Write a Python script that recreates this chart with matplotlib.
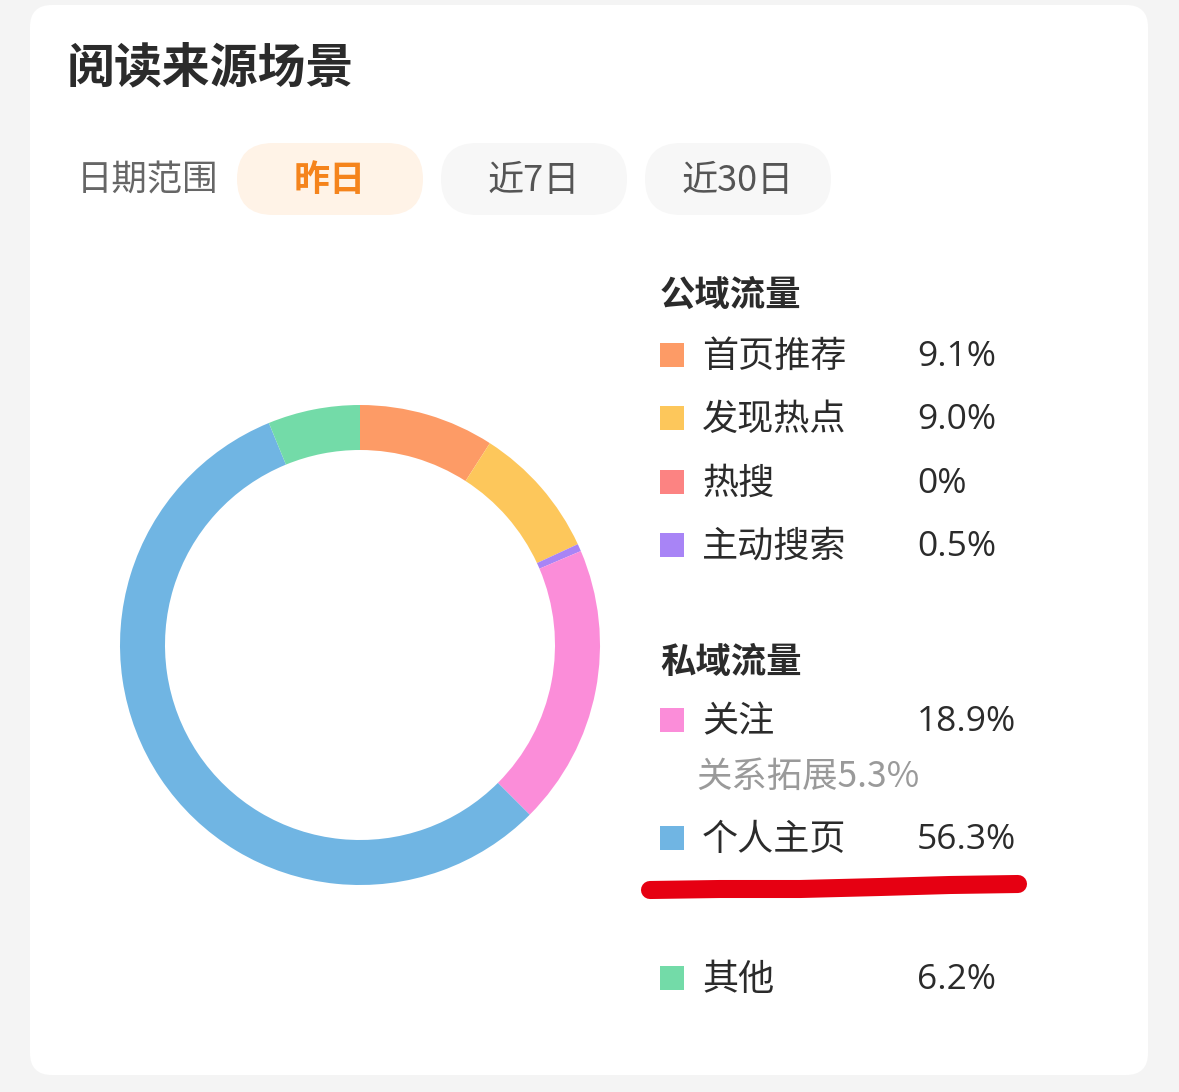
import matplotlib
matplotlib.use("Agg")
import matplotlib.pyplot as plt
from matplotlib.patches import FancyBboxPatch

plt.rcParams['font.family'] = ['Noto Sans CJK SC', 'DejaVu Sans']

# ---- data ----
title = "阅读来源场景"
date_label = "日期范围"
date_options = ["昨日", "近7日", "近30日"]
public_header = "公域流量"
private_header = "私域流量"
categories = ["首页推荐", "发现热点", "热搜", "主动搜索", "关注", "个人主页", "其他"]
values = [9.1, 9.0, 0.0, 0.5, 18.9, 56.3, 6.2]
value_labels = ["9.1%", "9.0%", "0%", "0.5%", "18.9%", "56.3%", "6.2%"]
sub_note = "关系拓展5.3%"
colors = ["#FD9B66", "#FDC75B", "#FC8382", "#A884F6", "#FB8DD9", "#70B5E3", "#73DBA8"]

W, H = 1179, 1092
fig = plt.figure(figsize=(W / 100, H / 100), dpi=100)
fig.patch.set_facecolor("#f4f4f4")

bg = fig.add_axes([0, 0, 1, 1])
bg.set_xlim(0, W)
bg.set_ylim(H, 0)
bg.axis("off")

# card
bg.add_patch(FancyBboxPatch((30, 5), 1118, 1070, boxstyle="round,pad=0,rounding_size=22",
                            fc="white", ec="none"))

# title
bg.text(67, 68, title, fontsize=34.5, fontweight="bold", color="#2b2b2b", va="center", ha="left")

# date range
bg.text(77, 181, date_label, fontsize=25.5, color="#666666", va="center", ha="left")
pills = [(237, 423, "#FFF3E7", "#F5841C", "bold"),
         (441, 627, "#F7F7F7", "#555555", "normal"),
         (645, 831, "#F7F7F7", "#555555", "normal")]
for (x0, x1, fc, tc, fw), lab in zip(pills, date_options):
    bg.add_patch(FancyBboxPatch((x0, 143), x1 - x0, 72, boxstyle="round,pad=0,rounding_size=36",
                                fc=fc, ec="none"))
    bg.text((x0 + x1) / 2, 181, lab, fontsize=26, color=tc, fontweight=fw, va="center", ha="center")

# donut
ax = fig.add_axes([120 / W, (H - 885) / H, 480 / W, 480 / H])
ax.pie(values, colors=colors, startangle=90, counterclock=False, radius=1,
       wedgeprops=dict(width=45 / 240, edgecolor="none"))
ax.set_xlim(-1, 1)
ax.set_ylim(-1, 1)
ax.set_aspect("equal")
ax.axis("off")

# legend
bg.text(660, 295, public_header, fontsize=25.5, fontweight="bold", color="#2b2b2b", va="center", ha="left")
bg.text(660, 662, private_header, fontsize=25.5, fontweight="bold", color="#2b2b2b", va="center", ha="left")

row_y = [355, 418, 482, 545, 720, 838, 978]
for i, (cat, vl, c) in enumerate(zip(categories, value_labels, colors)):
    y = row_y[i]
    bg.add_patch(plt.Rectangle((660, y - 12), 24, 24, fc=c, ec="none"))
    bg.text(702, y + 2, cat, fontsize=26, color="#2b2b2b", va="center", ha="left")
    bg.text(917, y + 2, vl, fontsize=25.5, color="#2b2b2b", va="center", ha="left",
            family=["Open Sans", "Noto Sans CJK SC"])

bg.text(696, 777, sub_note, fontsize=25.5, color="#9a9a9a", va="center", ha="left")

# red underline stroke
bg.plot([650, 720, 800, 880, 950, 1018], [890, 889, 889, 887, 885, 884],
        color="#E60012", lw=13, solid_capstyle="round", solid_joinstyle="round")

fig.savefig("out.png", dpi=100, facecolor=fig.get_facecolor())
